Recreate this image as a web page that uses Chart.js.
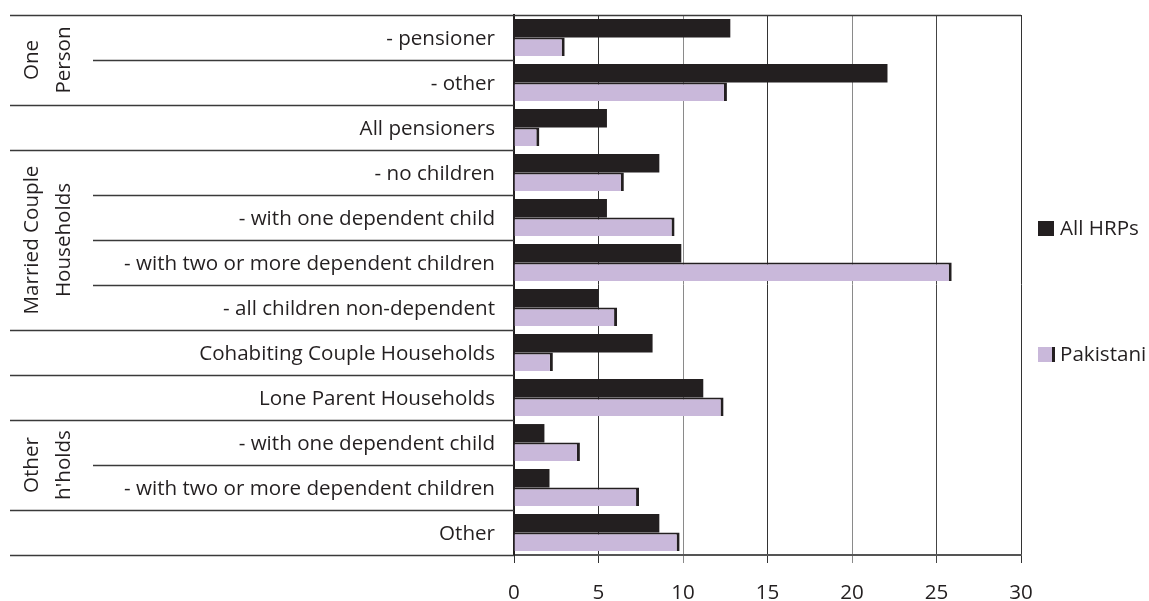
<!DOCTYPE html>
<html>
<head>
<meta charset="utf-8">
<script src="https://cdn.jsdelivr.net/npm/chart.js@4"></script>
<style>
  body { margin: 0; background: #fff; }
  #wrap { width: 1149px; height: 601px; }
</style>
</head>
<body>
<div id="wrap"><canvas id="chart" width="1149" height="601"></canvas></div>
<script>
// Household type data
const categories = [
    '- pensioner',
    '- other',
    'All pensioners',
    '- no children',
    '- with one dependent child',
    '- with two or more dependent children',
    '- all children non-dependent',
    'Cohabiting Couple Households',
    'Lone Parent Households',
    '- with one dependent child',
    '- with two or more dependent children',
    'Other'
];
const allHrps = [12.8, 22.1, 5.5, 8.6, 5.5, 9.9, 5.0, 8.2, 11.2, 1.8, 2.1, 8.6];
const pakistani = [3.0, 12.6, 1.5, 6.5, 9.5, 25.9, 6.1, 2.3, 12.4, 3.9, 7.4, 9.8];
const xTicks = [0, 5, 10, 15, 20, 25, 30];

// Group labels on the left
const groups = [
    { lines: ['One', 'Person'], start: 0, end: 1 },
    { lines: ['Married Couple', 'Households'], start: 3, end: 6 },
    { lines: ['Other', "h'holds"], start: 9, end: 10 }
];

const FONT = '"Open Sans", sans-serif';
const FONT_SIZE = 20.6;
const DARK = '#231F20';
const LAVENDER = '#C9B8DA';

// Draws separator lines, group labels and the legend
const decorPlugin = {
    id: 'decor',
    afterDraw(chart) {
        const ctx = chart.ctx;
        const area = chart.chartArea;
        const y = chart.scales.y;
        const n = categories.length;
        const boundary = i => {
            if (i === 0) return area.top;
            if (i === n) return area.bottom;
            return (y.getPixelForValue(i - 1) + y.getPixelForValue(i)) / 2;
        };
        // boundaries inside a group only span the sub-label column
        const inner = new Set();
        groups.forEach(g => { for (let i = g.start + 1; i <= g.end; i++) inner.add(i); });

        ctx.save();
        ctx.strokeStyle = '#3a3a3a';
        ctx.lineWidth = 1.5;
        for (let i = 0; i <= n; i++) {
            const py = Math.round(boundary(i)) + 0.5;
            ctx.beginPath();
            ctx.moveTo(inner.has(i) ? 93 : 10, py);
            ctx.lineTo(i === 0 ? area.right : area.left, py);
            ctx.stroke();
        }

        // rotated group labels
        ctx.fillStyle = DARK;
        ctx.font = FONT_SIZE + 'px ' + FONT;
        ctx.textAlign = 'center';
        ctx.textBaseline = 'alphabetic';
        groups.forEach(g => {
            const cy = (boundary(g.start) + boundary(g.end + 1)) / 2;
            g.lines.forEach((line, k) => {
                ctx.save();
                ctx.translate(38 + k * 32, cy);
                ctx.rotate(-Math.PI / 2);
                ctx.fillText(line, 0, 0);
                ctx.restore();
            });
        });

        // legend
        const mid = (area.top + area.bottom) / 2 + 6;
        chart.data.datasets.forEach((ds, k) => {
            const cy = mid + (k === 0 ? -62 : 64);
            ctx.fillStyle = ds.backgroundColor;
            ctx.fillRect(1038, cy - 8, 16, 15);
            if (k === 1) {
                ctx.fillStyle = DARK;
                ctx.fillRect(1052, cy - 8, 3, 15);
            }
            ctx.fillStyle = DARK;
            ctx.textAlign = 'left';
            ctx.textBaseline = 'middle';
            ctx.fillText(ds.label, 1060, cy);
        });
        ctx.restore();
    }
};

const gridColors = ['#333', '#333', '#8a8a8a', '#333', '#8a8a8a', '#444', '#333'];

new Chart(document.getElementById('chart'), {
    type: 'bar',
    data: {
        labels: categories,
        datasets: [{
            label: 'All HRPs',
            data: allHrps,
            backgroundColor: DARK,
            borderWidth: 0,
            categoryPercentage: 0.82,
            barPercentage: 1
        }, {
            label: 'Pakistani',
            data: pakistani,
            backgroundColor: LAVENDER,
            borderColor: DARK,
            borderWidth: { top: 2, right: 3, bottom: 0, left: 0 },
            borderSkipped: false,
            categoryPercentage: 0.82,
            barPercentage: 1
        }]
    },
    options: {
        indexAxis: 'y',
        responsive: false,
        animation: false,
        layout: { padding: { left: 0, top: 15, right: 128, bottom: 0 } },
        plugins: {
            legend: { display: false },
            tooltip: { enabled: false }
        },
        scales: {
            x: {
                min: 0,
                max: 30,
                afterFit: scale => { scale.height = 46; },
                afterBuildTicks: scale => { scale.ticks = xTicks.map(v => ({ value: v })); },
                border: { color: '#555', width: 2 },
                grid: {
                    color: c => gridColors[c.index] || '#333',
                    lineWidth: 1,
                    tickLength: 8,
                    drawTicks: true
                },
                ticks: {
                    color: DARK,
                    padding: 18,
                    font: { family: FONT, size: FONT_SIZE }
                }
            },
            y: {
                afterFit: scale => {
                    scale.width = 514;
                    scale.paddingTop = 0;
                    scale.paddingBottom = 0;
                },
                border: { color: DARK, width: 2 },
                grid: { display: false, drawTicks: false },
                ticks: {
                    color: DARK,
                    padding: 19,
                    labelOffset: 2,
                    autoSkip: false,
                    font: { family: FONT, size: FONT_SIZE }
                }
            }
        }
    },
    plugins: [decorPlugin]
});
</script>
</body>
</html>
